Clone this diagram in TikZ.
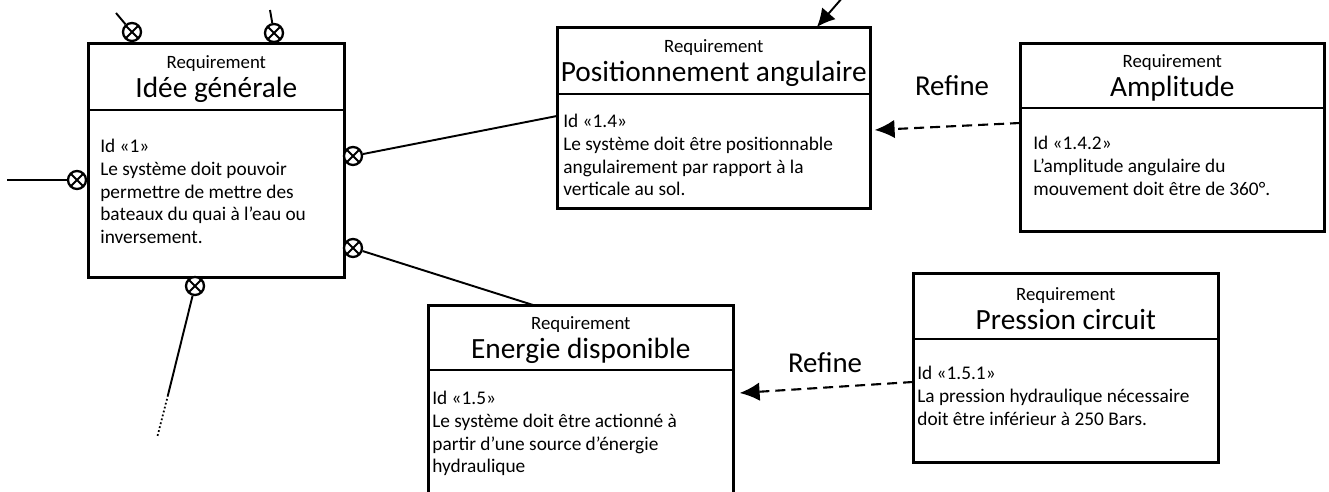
\documentclass[tikz,border=0pt]{standalone}
\usepackage{fontspec}
\setmainfont{Carlito}
\usetikzlibrary{arrows.meta}
\newcommand{\reqhead}[1]{{\fontsize{10.7}{12.5}\selectfont\rule{0pt}{10pt}Requirement}\\[2pt]{\fontsize{16.7}{18}\selectfont #1}}

\begin{document}
\begin{tikzpicture}[x=0.02cm,y=-0.02cm,>=Latex,
font=\fontsize{11}{12.9}\selectfont,
head/.style={draw,line width=.95pt,anchor=north west,align=center,inner sep=0pt},
body/.style={draw,line width=.95pt,anchor=north west,inner sep=0pt},
txt/.style={anchor=north west,align=left,inner sep=0pt},
frame/.style={line width=1.5pt},
port/.style={circle,draw,line width=1.3pt,minimum size=.36cm,inner sep=0pt,fill=white,
  path picture={\draw[line width=1.1pt] (path picture bounding box.north west)--(path picture bounding box.south east)
  (path picture bounding box.south west)--(path picture bounding box.north east);}},
link/.style={line width=1.1pt},
refine/.style={line width=1.2pt,dash pattern=on .2cm off .12cm,-{Latex[length=.4cm,width=.37cm]}},
lbl/.style={font=\fontsize{16.4}{18}\selectfont,inner sep=0pt}]
\path[use as bounding box,clip] (0,0) rectangle (1329,492);
% Idee generale
\node[head,minimum width=5.1cm,minimum height=1.32cm] (idh) at (88,43) {\reqhead{Idée générale}};
\node[body,minimum width=5.1cm,minimum height=3.34cm] (idb) at (88,109) {};
\node[txt] (idt) at (100,139) {Id «1»\\Le système doit pouvoir\\permettre de mettre des\\bateaux du quai à l’eau ou\\inversement.};
\draw[frame] (idh.north west) rectangle (idb.south east);
% Positionnement angulaire
\node[head,minimum width=6.24cm,minimum height=1.32cm] (poh) at (557,27) {\reqhead{Positionnement angulaire}};
\node[body,minimum width=6.24cm,minimum height=2.28cm] (pob) at (557,93) {};
\node[txt] (pot) at (563,114) {Id «1.4»\\Le système doit être positionnable\\angulairement par rapport à la\\verticale au sol.};
\draw[frame] (poh.north west) rectangle (pob.south east);
% Amplitude
\node[head,minimum width=6.06cm,minimum height=1.28cm] (amh) at (1020,43) {\reqhead{Amplitude}};
\node[body,minimum width=6.06cm,minimum height=2.46cm] (amb) at (1020,107) {};
\node[txt] (amt) at (1033,136) {Id «1.4.2»\\L’amplitude angulaire du\\mouvement doit être de 360°.};
\draw[frame] (amh.north west) rectangle (amb.south east);
% Energie disponible
\node[head,minimum width=6.08cm,minimum height=1.28cm] (enh) at (428,305) {\reqhead{Energie disponible}};
\node[body,minimum width=6.08cm,minimum height=2.6cm] (enb) at (428,369) {};
\node[txt] (ent) at (432,391) {Id «1.5»\\Le système doit être actionné à\\partir d’une source d’énergie\\hydraulique};
\draw[frame] (enh.north west) rectangle (enb.south east);
% Pression circuit
\node[head,minimum width=6.08cm,minimum height=1.3cm] (prh) at (913,273) {\reqhead{Pression circuit}};
\node[body,minimum width=6.08cm,minimum height=2.46cm] (prb) at (913,338) {};
\node[txt] (prt) at (917,366) {Id «1.5.1»\\La pression hydraulique nécessaire\\doit être inférieur à 250 Bars.};
\draw[frame] (prh.north west) rectangle (prb.south east);
% ports
\node[port] (c1) at (132,32) {};
\node[port] (c2) at (274,33) {};
\node[port] (c3) at (77,180) {};
\node[port] (c4) at (353,156) {};
\node[port] (c5) at (353,248) {};
\node[port] (c6) at (195,286) {};
\coordinate (e1) at (116,13);
\coordinate (e2) at (270,10);
\coordinate (e3) at (7,180);
\coordinate (e6) at (168,395);
\coordinate (e7) at (157,438);
\coordinate (e8) at (843,-3);
\draw[link] (e1)--(c1);\draw[link] (e2)--(c2);\draw[link] (e3)--(c3);
\draw[link] (c4)--([yshift=-.46cm]pob.north west);
\draw[link] (c5)--([xshift=2.1cm]enh.north west);
\draw[link] (c6)--(e6);
\draw[line width=1pt,dash pattern=on 1pt off 1.3pt] (e6)--(e7);
\draw[link,-{Latex[length=.36cm,width=.36cm]}] (e8)--([xshift=5.2cm]poh.north west);
% refine
\draw[refine] ([yshift=-.32cm]amb.north west)--([xshift=.08cm,yshift=-.74cm]pob.north east);
\node[lbl] (r1) at (952,86) {Refine};
\draw[refine] ([yshift=-.88cm]prb.north west)--([xshift=.12cm,yshift=-.48cm]enb.north east);
\node[lbl] (r2) at (825,363) {Refine};
\end{tikzpicture}
\end{document}
